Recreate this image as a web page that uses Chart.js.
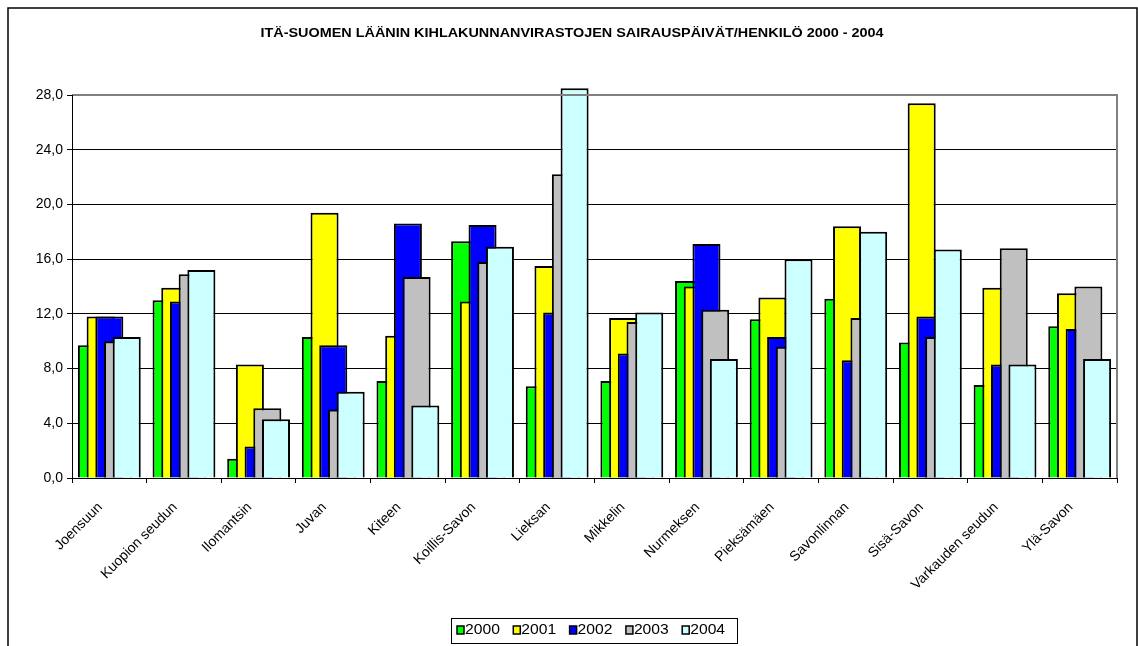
<!DOCTYPE html>
<html>
<head>
    <title>Sairauspäivät/henkilö 2000 - 2004</title>
    <script src="https://cdn.jsdelivr.net/npm/chart.js"></script>
    <style>
        html, body { margin: 0; padding: 0; background: #fff; }
        #wrap { width: 1138px; height: 646px; }
    </style>
</head>
<body>
    <div id="wrap"><canvas id="sickChart" width="1138" height="646"></canvas></div>
    <script>
        const districts = ['Joensuun', 'Kuopion seudun', 'Ilomantsin', 'Juvan', 'Kiteen', 'Koillis-Savon', 'Lieksan',
            'Mikkelin', 'Nurmeksen', 'Pieksämäen', 'Savonlinnan', 'Sisä-Savon', 'Varkauden seudun', 'Ylä-Savon'];
        const years = ['2000', '2001', '2002', '2003', '2004'];
        const days2000 = [9.7, 13.0, 1.4, 10.3, 7.1, 17.3, 6.7, 7.1, 14.4, 11.6, 13.1, 9.9, 6.8, 11.1];
        const days2001 = [11.8, 13.9, 8.3, 19.4, 10.4, 12.9, 15.5, 11.7, 14.0, 13.2, 18.4, 27.4, 13.9, 13.5];
        const days2002 = [11.8, 12.9, 2.3, 9.7, 18.6, 18.5, 12.1, 9.1, 17.1, 10.3, 8.6, 11.8, 8.3, 10.9];
        const days2003 = [10.0, 14.9, 5.1, 5.0, 14.7, 15.8, 22.2, 11.4, 12.3, 9.6, 11.7, 10.3, 16.8, 14.0];
        const days2004 = [10.3, 15.2, 4.3, 6.3, 5.3, 16.9, 28.5, 12.1, 8.7, 16.0, 18.0, 16.7, 8.3, 8.7];
        const yTicks = [0, 4, 8, 12, 16, 20, 24, 28];
        const chartTitle = 'ITÄ-SUOMEN LÄÄNIN KIHLAKUNNANVIRASTOJEN SAIRAUSPÄIVÄT/HENKILÖ 2000 - 2004';

        const colors = ['#00ff00', '#ffff00', '#0000ff', '#c0c0c0', '#ccffff'];
        const series = [days2000, days2001, days2002, days2003, days2004];
        const FONT = 'Arial, "Liberation Sans", sans-serif';

        // the original picture is stretched sideways a bit, so title and legend text get a wider draw
        function wideText(c, text, x, y, sx) {
            c.save();
            c.translate(x, y);
            c.scale(sx, 1);
            c.fillText(text, 0, 0);
            c.restore();
        }

        // frame, plot-area border, title and boxed legend like the Excel original
        const excelLook = {
            id: 'excelLook',
            beforeDraw(chart) {
                const c = chart.ctx;
                c.save();
                c.fillStyle = '#fff';
                c.fillRect(0, 0, chart.width, chart.height);
                c.strokeStyle = '#000';
                c.lineWidth = 1.5;
                c.strokeRect(8, 8, 1129, 700);
                c.restore();
            },
            // Excel overlaps bars left to right, so the later year sits on top
            beforeDatasetsDraw(chart) {
                for (let i = 0; i < chart.data.datasets.length; i++) {
                    chart.getDatasetMeta(i).controller.draw();
                }
                return false;
            },
            afterDraw(chart) {
                const a = chart.chartArea;
                const c = chart.ctx;
                c.save();
                c.strokeStyle = '#808080';
                c.lineWidth = 2;
                c.beginPath();
                c.moveTo(a.left, a.top);
                c.lineTo(a.right, a.top);
                c.lineTo(a.right, a.bottom);
                c.stroke();
                c.strokeStyle = '#000';
                c.lineWidth = 1;
                c.beginPath();
                c.moveTo(a.left + 0.5, a.top);
                c.lineTo(a.left + 0.5, a.bottom + 0.5);
                c.lineTo(a.right, a.bottom + 0.5);
                c.stroke();

                // title
                c.fillStyle = '#000';
                c.font = 'bold 12px ' + FONT;
                c.textAlign = 'center';
                c.textBaseline = 'middle';
                wideText(c, chartTitle, 572, 33.5, 1.2);

                // legend
                c.textAlign = 'left';
                c.strokeStyle = '#000';
                c.lineWidth = 1;
                c.strokeRect(451.5, 618.5, 286, 25);
                c.font = '14px ' + FONT;
                years.forEach((y, i) => {
                    const x = 457 + i * 56.3;
                    c.fillStyle = colors[i];
                    c.fillRect(x, 626, 7, 8);
                    c.lineWidth = 1.5;
                    c.strokeRect(x, 626, 7, 8);
                    c.fillStyle = '#000';
                    wideText(c, y, x + 8, 630.5, 1.12);
                });
                c.restore();
            }
        };

        new Chart(document.getElementById('sickChart'), {
            type: 'bar',
            data: {
                labels: districts,
                datasets: series.map((vals, i) => ({
                    label: years[i],
                    data: vals,
                    backgroundColor: colors[i],
                    borderColor: '#000',
                    borderWidth: 2,
                    borderSkipped: 'bottom',
                    categoryPercentage: 0.583,
                    barPercentage: 3.22,
                    clip: false
                }))
            },
            options: {
                responsive: false,
                animation: false,
                layout: { padding: { left: 0, right: 21, top: 95, bottom: 0 } },
                plugins: {
                    legend: { display: false },
                    tooltip: { enabled: false },
                    title: { display: false }
                },
                scales: {
                    x: {
                        offset: true,
                        grid: { display: true, offset: true, drawOnChartArea: false, color: '#000', tickLength: 5 },
                        border: { display: true, color: '#000' },
                        ticks: {
                            color: '#000',
                            padding: 16,
                            labelOffset: -9,
                            autoSkip: false,
                            minRotation: 45,
                            maxRotation: 45,
                            font: { family: FONT, size: 14 }
                        },
                        afterFit(scale) { scale.height = 168; }
                    },
                    y: {
                        min: 0,
                        max: 28,
                        afterBuildTicks(scale) { scale.ticks = yTicks.map(v => ({ value: v })); },
                        grid: { color: '#000', tickLength: 5, lineWidth: 1 },
                        border: { display: true, color: '#000' },
                        ticks: {
                            color: '#000',
                            padding: 4,
                            font: { family: FONT, size: 14 },
                            callback: v => v.toFixed(1).replace('.', ',')
                        },
                        afterFit(scale) { scale.width = 72; }
                    }
                }
            },
            plugins: [excelLook]
        });
    </script>
</body>
</html>
